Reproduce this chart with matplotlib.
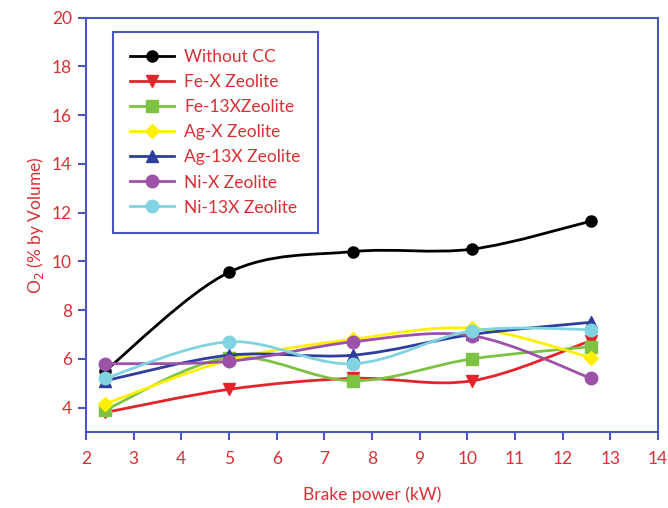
import numpy as np
import matplotlib
matplotlib.use("Agg")
import matplotlib.pyplot as plt
from matplotlib.path import Path
from matplotlib.patches import PathPatch
from matplotlib.lines import Line2D

plt.rcParams['font.family'] = ['Lato', 'DejaVu Sans']

brake_power = [2.4, 5.0, 7.6, 10.1, 12.6]
without_cc = [5.5, 9.55, 10.4, 10.5, 11.65]
fe_x = [3.8, 4.75, 5.2, 5.1, 6.75]
fe_13x = [3.9, 6.05, 5.1, 6.0, 6.5]
ag_x = [4.15, 5.95, 6.8, 7.25, 6.05]
ag_13x = [5.1, 6.15, 6.15, 7.0, 7.5]
ni_x = [5.8, 5.9, 6.7, 6.95, 5.2]
ni_13x = [5.2, 6.7, 5.8, 7.15, 7.2]

series = [
    ("Without CC", without_cc, "#000000", "o", 8),
    ("Fe-X Zeolite", fe_x, "#E3242B", "v", 8),
    ("Fe-13XZeolite", fe_13x, "#7DC243", "s", 8),
    ("Ag-X Zeolite", ag_x, "#FFF000", "D", 7),
    ("Ag-13X Zeolite", ag_13x, "#2E3E9C", "^", 8),
    ("Ni-X Zeolite", ni_x, "#9B52A8", "o", 9),
    ("Ni-13X Zeolite", ni_13x, "#80D4E2", "o", 9),
]

axis_blue = "#4B55C0"
text_red = "#D93035"

fig = plt.figure(figsize=(6.68, 5.08), dpi=100)
ax = fig.add_axes([86/668, 1-432/508, (658-86)/668, (432-17.5)/508])


def smooth_path(x, y):
    pts = np.column_stack([x, y])
    n = len(pts)
    verts = [pts[0]]
    codes = [Path.MOVETO]
    for i in range(n - 1):
        p0 = pts[i - 1] if i > 0 else pts[i]
        p1 = pts[i]
        p2 = pts[i + 1]
        p3 = pts[i + 2] if i + 2 < n else pts[i + 1]
        c1 = p1 + (p2 - p0) / 6.0
        c2 = p2 - (p3 - p1) / 6.0
        verts += [c1, c2, p2]
        codes += [Path.CURVE4] * 3
    return Path(verts, codes)


handles = []
for i, (name, vals, col, mk, ms) in enumerate(series):
    patch = PathPatch(smooth_path(brake_power, vals), facecolor='none',
                      edgecolor=col, lw=2.0, zorder=2 + i)
    ax.add_patch(patch)
    ax.plot(brake_power, vals, linestyle='none', marker=mk, ms=ms,
            color=col, zorder=2 + i)
    handles.append(Line2D([], [], color=col, lw=2.0, marker=mk, ms=ms))

ax.set_xlim(2, 14)
ax.set_ylim(3, 20)
ax.set_xticks(range(2, 15))
ax.set_yticks(range(4, 21, 2))

for s in ax.spines.values():
    s.set_color(axis_blue)
    s.set_linewidth(1.5)
ax.tick_params(axis='both', colors=axis_blue, labelcolor=text_red,
               labelsize=12.5, width=1.5, length=6, direction='out')
ax.tick_params(axis='x', pad=8)
ax.tick_params(axis='y', pad=4)

ax.set_xlabel("Brake power (kW)", color=text_red, fontsize=12.5, labelpad=14)
ax.set_ylabel("O$_2$ (% by Volume)", color=text_red, fontsize=12.5, labelpad=4)

leg = ax.legend(handles, [s[0] for s in series], loc='upper left',
                bbox_to_anchor=(0.047, 0.965), fontsize=12.5,
                labelspacing=0.52, handlelength=2.5, handletextpad=0.6,
                borderpad=1.0, borderaxespad=0, fancybox=False,
                framealpha=1, edgecolor=axis_blue)
leg.get_frame().set_linewidth(1.5)
for t in leg.get_texts():
    t.set_color(text_red)

fig.savefig("out.png", dpi=100)
